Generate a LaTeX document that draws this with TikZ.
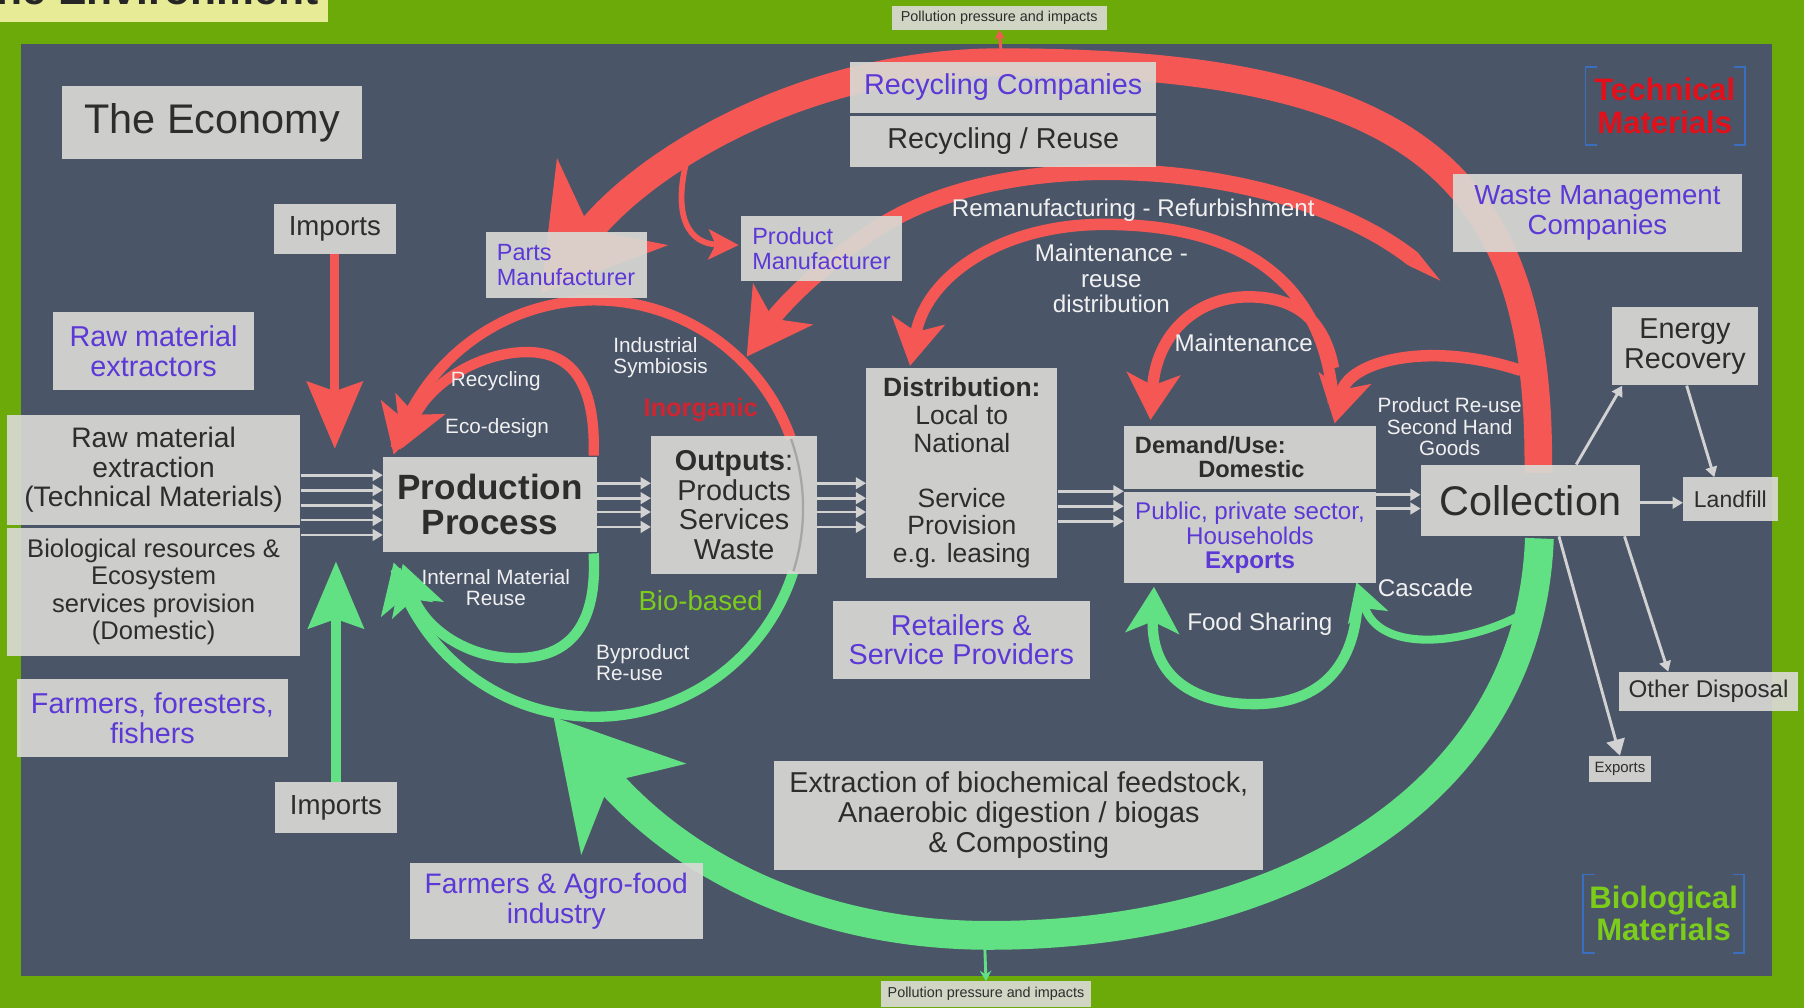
\documentclass[tikz,border=0pt]{standalone}
\usepackage{fontspec}
\setmainfont{Liberation Sans}
\usetikzlibrary{arrows.meta}
\definecolor{envgreen}{RGB}{108,170,10}
\definecolor{panel}{RGB}{75,85,104}
\definecolor{boxc}{RGB}{217,217,212}
\definecolor{darkc}{RGB}{45,45,45}
\definecolor{purc}{RGB}{92,56,214}
\definecolor{redarc}{RGB}{245,88,84}
\definecolor{grnarc}{RGB}{98,224,132}
\definecolor{techred}{RGB}{226,16,26}
\definecolor{biogrn}{RGB}{124,204,28}
\definecolor{inorg}{RGB}{208,36,48}
\definecolor{brk}{RGB}{58,110,190}
\definecolor{whitec}{RGB}{240,240,240}
\definecolor{graya}{RGB}{210,210,210}
\definecolor{titley}{RGB}{232,235,150}
\newcommand{\myfs}[2]{\fontsize{#1}{#2}\selectfont}
\pgfdeclarelayer{bg}
\pgfdeclarelayer{arcs}
\pgfsetlayers{bg,arcs,main}
\begin{document}
\begin{tikzpicture}[x=1pt,y=-1pt,
  gbox/.style={fill=boxc, fill opacity=0.92, text opacity=1, inner sep=0pt, align=center, text=darkc},
  pbox/.style={gbox, text=purc},
  lbl/.style={text=whitec, align=center, inner sep=0pt, font=\myfs{18}{18.5}},
  grayarr/.style={draw=graya, line width=2.5pt, -{Triangle[length=9pt,width=10pt]}},
  brack/.style={draw=brk, line width=1.5pt},
]
\useasboundingbox (0,0) rectangle (1568,876);
\begin{pgfonlayer}{bg}
\fill[envgreen] (0,0) rectangle (1568,876);
\fill[titley] (0,0) rectangle (285,19);
\fill[panel] (18,38) rectangle (1540,848);
\end{pgfonlayer}

\node[anchor=base east, inner sep=0pt, text=black!85, font=\bfseries\myfs{37}{40}] (title) at (277,4) {The Environment};

% boxes
\node[gbox, minimum width=261pt, minimum height=63pt, font=\myfs{36}{40}] (econ) at (184.5,106.5) {The Economy};
\node[gbox, minimum width=106pt, minimum height=44pt, font=\myfs{24}{26}] (impT) at (291,199) {Imports};
\node[pbox, minimum width=140pt, minimum height=57pt, font=\myfs{20.4}{22}, align=left] (parts) at (492,230.5) {Parts\\Manufacturer};
\node[pbox, minimum width=140pt, minimum height=56pt, font=\myfs{20.4}{22}, align=left] (prodm) at (714,216) {Product\\Manufacturer};
\node[pbox, minimum width=266pt, minimum height=44pt, font=\myfs{25}{27}] (recC) at (872,76) {Recycling Companies};
\node[gbox, minimum width=266pt, minimum height=44pt, font=\myfs{25}{27}] (recR) at (872,123) {Recycling / Reuse};
\node[pbox, minimum width=251pt, minimum height=68pt, font=\myfs{24}{26}] (waste) at (1388.5,185) {Waste Management\\Companies};
\node[pbox, minimum width=175pt, minimum height=68pt, font=\myfs{25}{26}] (rawx) at (133.5,305) {Raw material\\extractors};
\node[gbox, minimum width=255pt, minimum height=95pt, font=\myfs{24.5}{25.5}] (rawe) at (133.5,408.5) {Raw material\\extraction\\(Technical Materials)};
\node[gbox, minimum width=255pt, minimum height=111pt, font=\myfs{22.2}{24}] (bio) at (133.5,514.5) {Biological resources \&\\Ecosystem\\services provision\\(Domestic)};
\node[pbox, minimum width=235pt, minimum height=68pt, font=\myfs{25}{26}] (farm) at (132.5,624) {Farmers, foresters,\\fishers};
\node[gbox, minimum width=106pt, minimum height=44pt, font=\myfs{24}{26}] (impB) at (292,702) {Imports};
\node[gbox, minimum width=186pt, minimum height=83pt, font=\bfseries\myfs{30.5}{31}] (prod) at (426,438.5) {Production\\Process};
\node[gbox, minimum width=144pt, minimum height=120pt, font=\myfs{25}{26}] (out) at (638,439) {\textbf{Outputs}:\\Products\\Services\\Waste};
\node[gbox, minimum width=166pt, minimum height=182pt, font=\myfs{23}{24}] (dist) at (836,411) {\textbf{Distribution:}\\Local to\\National\\[24pt]Service\\Provision\\e.g. leasing};
\node[gbox, minimum width=219pt, minimum height=55pt, font=\bfseries\myfs{20.5}{21}, text width=200pt, align=left] (dem) at (1086.5,397.5) {Demand/Use:\\\hspace*{55pt}Domestic};
\node[pbox, minimum width=219pt, minimum height=79pt, font=\myfs{21}{21.5}] (pub) at (1086.5,467.5) {Public, private sector,\\Households\\\textbf{Exports}};
\node[gbox, minimum width=190pt, minimum height=62pt, font=\myfs{36}{40}] (coll) at (1330,435) {Collection};
\node[gbox, minimum width=127pt, minimum height=68pt, font=\myfs{25}{26}] (energy) at (1464.5,301) {Energy\\Recovery};
\node[gbox, minimum width=82pt, minimum height=38pt, font=\myfs{20}{22}] (land) at (1504,434) {Landfill};
\node[gbox, minimum width=156pt, minimum height=34pt, font=\myfs{21}{22}] (other) at (1485,601) {Other Disposal};
\node[gbox, minimum width=54pt, minimum height=23pt, font=\myfs{13}{14}] (expS) at (1408,668.5) {Exports};
\node[pbox, minimum width=223pt, minimum height=68pt, font=\myfs{25}{26}] (retail) at (835.5,556) {Retailers \&\\Service Providers};
\node[gbox, minimum width=425pt, minimum height=95pt, font=\myfs{25}{26}] (extr) at (885.5,708.5) {Extraction of biochemical feedstock,\\Anaerobic digestion / biogas\\\& Composting};
\node[pbox, minimum width=255pt, minimum height=66pt, font=\myfs{24.5}{26}] (agro) at (483.5,783) {Farmers \& Agro-food\\industry};
\node[gbox, minimum width=187pt, minimum height=21pt, font=\myfs{12.5}{13}] (polT) at (868.5,15.5) {Pollution pressure and impacts};
\node[gbox, minimum width=182pt, minimum height=22pt, font=\myfs{12.5}{13}] (polB) at (857,864) {Pollution pressure and impacts};

% legend brackets
\draw[brack] (1388,58) -- (1378,58) -- (1378,126) -- (1388,126);
\draw[brack] (1507,58) -- (1517,58) -- (1517,126) -- (1507,126);
\node[inner sep=0pt, align=center, text=techred, font=\bfseries\myfs{27}{28}] (tech) at (1447,92) {Technical\\Materials};
\draw[brack] (1386,760) -- (1376,760) -- (1376,828) -- (1386,828);
\draw[brack] (1506,760) -- (1516,760) -- (1516,828) -- (1506,828);
\node[inner sep=0pt, align=center, text=biogrn, font=\bfseries\myfs{27}{28}] (biom) at (1446,794) {Biological\\Materials};

% arcs
\begin{pgfonlayer}{arcs}
\draw[redarc, line width=24pt, -{Stealth[length=100pt,width=120pt,inset=30pt]}]
  (1337,411) .. controls (1340,150) and (1230,54) .. (870,54) .. controls (700,54) and (560,140) .. (470,255);
\draw[redarc, line width=5pt, -{Stealth[length=26pt,width=26pt,inset=6pt]}]
  (598,135) .. controls (583,190) and (600,212) .. (642,213);
\coordinate (rmtail) at (1228,225);
\fill[redarc] (1232.3,219.5) -- (1252,244) -- (1223.7,230.5) -- cycle;
\draw[redarc, line width=14pt, -{Stealth[length=55pt,width=62pt,inset=15pt]}]
  (rmtail) .. controls (1120,140) and (880,120) .. (760,200) .. controls (715,230) and (680,265) .. (649,310);
\draw[redarc, line width=10pt, -{Stealth[length=40pt,width=46pt,inset=10pt]}]
  (1159,350) .. controls (1150,230) and (1060,195) .. (960,195) .. controls (870,195) and (805,240) .. (791,318);
\draw[redarc, line width=10pt, -{Stealth[length=40pt,width=46pt,inset=10pt]}]
  (1159,320) .. controls (1150,272) and (1120,258) .. (1085,258) .. controls (1040,258) and (1005,290) .. (1000,365);
\draw[redarc, line width=10pt, -{Stealth[length=40pt,width=46pt,inset=10pt]}]
  (1322,322) .. controls (1240,295) and (1172,315) .. (1160,368);
\draw[redarc, line width=9pt, -{Stealth[length=42pt,width=46pt,inset=10pt]}]
  plot[domain=-19.5:-165, samples=60, smooth, variable=\t] ({517+181*cos(\t)},{442+181*sin(\t)});
\draw[redarc, line width=9pt, -{Stealth[length=42pt,width=46pt,inset=10pt]}]
  (516,396) .. controls (518,330) and (495,306) .. (458,306) .. controls (415,306) and (372,335) .. (349,390);
\draw[grnarc, line width=9pt, -{Stealth[length=42pt,width=46pt,inset=10pt]}]
  plot[domain=17.5:165, samples=60, smooth, variable=\t] ({517+181*cos(\t)},{442+181*sin(\t)});
\draw[grnarc, line width=9pt, -{Stealth[length=42pt,width=46pt,inset=10pt]}]
  (516,481) .. controls (520,555) and (485,572) .. (448,572) .. controls (405,572) and (368,545) .. (350,490);
\draw[grnarc, line width=25pt, -{Stealth[length=105pt,width=118pt,inset=30pt]}]
  (1338,468) .. controls (1330,690) and (1120,813) .. (860,813) .. controls (720,813) and (600,760) .. (481,623);
\draw[grnarc, line width=9pt, -{Stealth[length=40pt,width=46pt,inset=10pt]}]
  (1180,525) .. controls (1175,600) and (1125,612) .. (1090,612) .. controls (1040,612) and (1000,590) .. (1003,510);
\draw[grnarc, line width=7pt, -{Stealth[length=32pt,width=36pt,inset=8pt]}]
  (1330,530) .. controls (1280,560) and (1200,570) .. (1179,506);
\draw[redarc, line width=8pt, -{Stealth[length=58pt,width=48pt,inset=8pt]}] (impT.south) -- (291,390);
\draw[grnarc, line width=8pt, -{Stealth[length=58pt,width=48pt,inset=8pt]}] (impB.north) -- (292,488);
\draw[redarc, line width=2.5pt, -{Stealth[length=8pt,width=9pt]}] (870,44) -- (polT.south);
\draw[grnarc, line width=2.5pt, -{Stealth[length=9pt,width=10pt]}] (856,824) -- (polB.north);
\end{pgfonlayer}

% thin arc through outputs box
\draw[gray!70, line width=2pt] plot[domain=-19.5:17.5, samples=20, smooth, variable=\t] ({517+181*cos(\t)},{442+181*sin(\t)});

% gray flow arrows
\foreach \yy [count=\i] in {413,426,439,452,465} {
  \coordinate (ra\i) at (0,\yy);
  \draw[grayarr] (rawe.east |- ra\i) -- (prod.west |- ra\i);
}
\foreach \yy [count=\i] in {420,433,445,458} {
  \coordinate (pa\i) at (0,\yy);
  \draw[grayarr] (prod.east |- pa\i) -- (out.west |- pa\i);
  \draw[grayarr] (out.east |- pa\i) -- (dist.west |- pa\i);
}
\foreach \yy [count=\i] in {427,440,453} {
  \coordinate (da\i) at (0,\yy);
  \draw[grayarr] (dist.east |- da\i) -- (dem.west |- da\i);
}
\foreach \yy [count=\i] in {430,442} {
  \coordinate (ca\i) at (0,\yy);
  \draw[grayarr] (pub.east |- ca\i) -- (coll.west |- ca\i);
}
\coordinate (lf) at (0,437);
\draw[grayarr] ([xshift=40pt]coll.north) -- ([xshift=-54.5pt]energy.south);
\draw[grayarr] ([xshift=1.5pt]energy.south) -- ([xshift=-14pt]land.north);
\draw[grayarr] (coll.east |- lf) -- (land.west |- lf);
\draw[grayarr] ([xshift=82pt]coll.south) -- ([xshift=-35pt]other.north);
\draw[grayarr, -{Triangle[length=14pt,width=16pt]}] ([xshift=25pt]coll.south) -- (expS.north);

% labels
\node[lbl, font=\myfs{21}{22}] (reman) at (985,183) {Remanufacturing - Refurbishment};
\node[lbl, font=\myfs{21}{22}] (mrd) at (966,242) {Maintenance -\\reuse\\distribution};
\node[lbl, font=\myfs{21}{22}] (maint) at (1081,298) {Maintenance};
\node[lbl] (preuse) at (1260,371) {Product Re-use\\Second Hand\\Goods};
\node[lbl, font=\myfs{21}{22}] (casc) at (1239,511) {Cascade};
\node[lbl, font=\myfs{21}{22}] (food) at (1095,543) {Food Sharing};
\node[lbl] (recy) at (431,331) {Recycling};
\node[lbl] (eco) at (432,372) {Eco-design};
\node[lbl, anchor=west, align=left] (indsym) at (533,311) {Industrial\\Symbiosis};
\node[inner sep=0pt, text=inorg, font=\bfseries\myfs{22}{24}] (inorg) at (609,356) {Inorganic};
\node[inner sep=0pt, text=biogrn, font=\myfs{24}{26}] (biob) at (609,522) {Bio-based};
\node[lbl] (imr) at (431,511) {Internal Material\\Reuse};
\node[lbl, anchor=west, align=left] (byp) at (518,576) {Byproduct\\Re-use};
\end{tikzpicture}
\end{document}
